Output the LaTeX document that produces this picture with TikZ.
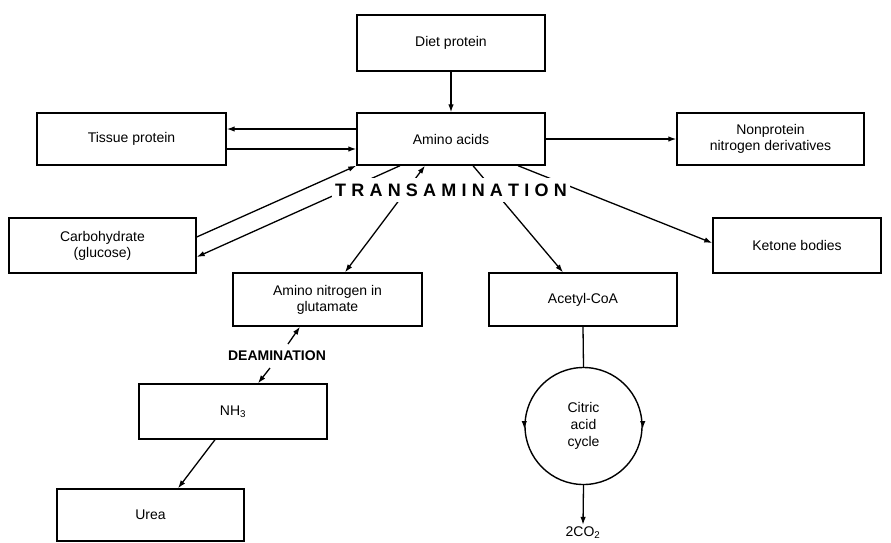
\documentclass[tikz,border=0pt]{standalone}
\usepackage{fontspec}
\setmainfont{Liberation Sans}
\usetikzlibrary{arrows.meta}
\newcommand\ls{\kern5.2pt}
\begin{document}
\begin{tikzpicture}[x=1pt,y=-1pt,
  box/.style={draw, line width=1.4pt, fill=white, inner sep=0pt, align=center,
    minimum width=188pt, minimum height=53pt, font=\fontsize{14}{16}\selectfont},
  arr/.style={line width=1.3pt, -{Latex[length=8pt,width=5.5pt]}},
  dbl/.style={line width=1.3pt, {Latex[length=8pt,width=5.5pt]}-{Latex[length=8pt,width=5.5pt]}},
  plain/.style={line width=1.3pt},
  trans/.style={fill=white, inner xsep=3pt, inner ysep=6pt, font=\fontsize{18}{20}\selectfont\bfseries},
  deam/.style={inner sep=2pt, font=\fontsize{14}{16}\selectfont\bfseries},
  lbl/.style={inner sep=2pt, font=\fontsize{14}{16}\selectfont}]
\useasboundingbox (0,0) rectangle (891,542);
% boxes
\node[box, minimum height=56pt] (diet) at (451,43) {Diet protein};
\node[box, minimum height=52pt] (amino) at (451,139) {Amino acids};
\node[box, minimum width=189pt, minimum height=52pt] (tissue) at (131.5,139) {Tissue protein};
\node[box, minimum width=187pt, minimum height=52pt] (nonprot) at (770.5,139) {Nonprotein\\nitrogen derivatives};
\node[box, minimum width=187pt, minimum height=55pt] (carb) at (102.5,245.5) {Carbohydrate\\(glucose)};
\node[box, minimum width=168pt, minimum height=55pt] (ketone) at (797,245.5) {Ketone bodies};
\node[box, minimum width=189pt] (aminoN) at (327.5,299.5) {Amino nitrogen in\\glutamate};
\node[box] (acetyl) at (583,299.5) {Acetyl-CoA};
\node[box, minimum height=55pt] (nh3) at (233,411.5) {NH\textsubscript{3}};
\node[box, minimum width=187pt, minimum height=52pt] (urea) at (150.5,515) {Urea};
\node[circle, draw, line width=1.4pt, minimum size=117pt, inner sep=0pt, align=center,
  font=\fontsize{14}{17}\selectfont] (tca) at (583.5,426) {Citric\\acid\\cycle};
\node[lbl] (co2) at (583,533) {2CO\textsubscript{2}};
% connectors
\draw[arr] (diet.south) -- (amino.north);
\draw[arr] (amino.west |- 0,129) -- (tissue.east |- 0,129);
\draw[arr] (tissue.east |- 0,149) -- (amino.west |- 0,149);
\draw[arr] (amino.east) -- (nonprot.west);
\draw[arr] (carb.east |- 0,237) -- (amino.south west);
\draw[arr] (amino.south -| 400,0) -- (carb.east |- 0,257);
\draw[dbl] (amino.south -| 425,0) -- (aminoN.north -| 345,0);
\draw[arr] (amino.south -| 473,0) -- (acetyl.north -| 563,0);
\draw[arr] (amino.south -| 518,0) -- (ketone.west |- 0,243);
\node[trans] (trans) at (451,190) {T\ls R\ls A\ls N\ls S\ls A\ls M\ls I\ls N\ls A\ls T\ls I\ls O\ls N};
\node[deam] (deam) at (277,356) {DEAMINATION};
\coordinate (d1) at (288,344);
\coordinate (d2) at (270,368);
\draw[arr] (d1) -- (aminoN.south -| 300,0);
\draw[arr] (d2) -- (nh3.north -| 258,0);
\draw[arr] (nh3.south -| 215,0) -- (urea.north -| 178,0);
\draw[plain] (acetyl.south) -- (tca.north);
\draw[arr] (tca.south) -- (co2.north);
\draw[arr] ([yshift=5pt]tca.west) -- ([yshift=-3pt]tca.west);
\draw[arr] ([yshift=5pt]tca.east) -- ([yshift=-3pt]tca.east);
\end{tikzpicture}
\end{document}
